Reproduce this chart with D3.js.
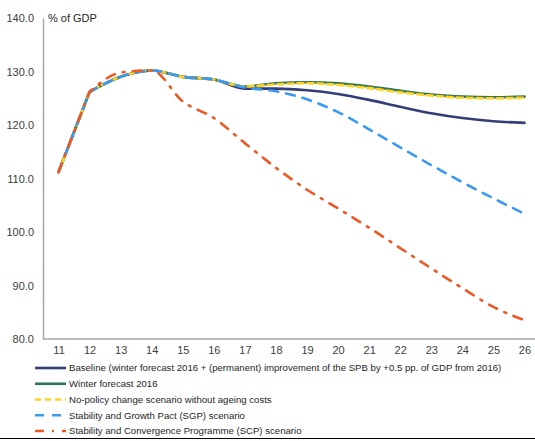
<!DOCTYPE html>
<html>
<head>
<meta charset="utf-8">
<script src="https://cdn.jsdelivr.net/npm/d3@7"></script>
<style>
  body { margin: 0; background: #fff; }
  svg { display: block; font-family: "Liberation Sans", Arial, sans-serif; }
  .axis text { fill: #404040; font-size: 11px; }
  .legend text { fill: #262626; font-size: 9.6px; }
</style>
</head>
<body>
<div id="line-chart"></div>
<script>
// Years (20xx)
var years = ["11", "12", "13", "14", "15", "16", "17", "18", "19", "20", "21", "22", "23", "24", "25", "26"];
var yTicks = [80, 90, 100, 110, 120, 130, 140];

var baseline = [111.2, 126.2, 129.0, 130.2, 129.0, 128.5, 126.8, 126.8, 126.5, 125.8, 124.7, 123.4, 122.2, 121.3, 120.7, 120.4];
var winter2016 = [111.2, 126.2, 129.0, 130.2, 129.0, 128.5, 127.2, 127.8, 128.0, 127.8, 127.2, 126.4, 125.7, 125.3, 125.2, 125.3];
var noPolicy = [111.2, 126.2, 129.0, 130.2, 129.0, 128.5, 127.2, 127.6, 127.8, 127.5, 126.9, 126.1, 125.5, 125.1, 125.0, 125.1];
var sgp = [111.2, 126.2, 129.0, 130.2, 129.0, 128.5, 127.0, 126.3, 124.8, 122.4, 119.2, 115.8, 112.5, 109.3, 106.3, 103.4];
var scp = [111.2, 126.2, 129.8, 130.2, 124.4, 121.3, 116.6, 112.0, 107.9, 104.4, 100.8, 97.0, 93.2, 89.5, 86.0, 83.5];

var seriesNames = [
  "Baseline (winter forecast 2016 + (permanent) improvement of the SPB by +0.5 pp. of GDP from 2016)",
  "Winter forecast 2016",
  "No-policy change scenario without ageing costs",
  "Stability and Growth Pact (SGP) scenario",
  "Stability and Convergence Programme (SCP) scenario"
];

var series = [
  { name: seriesNames[0], values: baseline, color: "#333d7a", dash: null },
  { name: seriesNames[1], values: winter2016, color: "#2f7656", dash: null },
  { name: seriesNames[2], values: noPolicy, color: "#ffd21f", dash: "6,4" },
  { name: seriesNames[3], values: sgp, color: "#3a9af2", dash: "9,8" },
  { name: seriesNames[4], values: scp, color: "#ee5824", dash: "9,8,2,8" }
];

var render = function() {
  var width = 535;
  var height = 441;

  var svg = d3.select("#line-chart")
    .append("svg")
    .attr("width", width)
    .attr("height", height);

  var xScale = d3.scalePoint()
    .domain(years)
    .range([43, 540])
    .padding(0.5);

  var yScale = d3.scaleLinear()
    .domain([80, 140])
    .range([339, 18]);

  // y axis
  var yAxis = d3.axisLeft(yScale)
    .tickValues(yTicks)
    .tickSize(0)
    .tickPadding(9)
    .tickFormat(d3.format(".1f"));

  var yG = svg.append("g")
    .attr("class", "y axis")
    .attr("transform", "translate(43,0)")
    .call(yAxis);
  yG.select(".domain").attr("stroke", "#a6a6a6").attr("stroke-width", 1.5);

  // x axis
  var xAxis = d3.axisBottom(xScale)
    .tickSize(0)
    .tickPadding(7);

  var xG = svg.append("g")
    .attr("class", "x axis")
    .attr("transform", "translate(0,339)")
    .call(xAxis);
  xG.select(".domain").remove();
  xG.append("line")
    .attr("x1", 43).attr("x2", width)
    .attr("y1", 0).attr("y2", 0)
    .attr("stroke", "#a6a6a6")
    .attr("stroke-width", 1.5);

  svg.append("text")
    .attr("x", 48)
    .attr("y", 22)
    .attr("fill", "#262626")
    .style("font-size", "11px")
    .text("% of GDP");

  // smooth from 2012 on, straight segment 2011 -> 2012 (sharp corner at 12)
  var smooth = d3.line()
    .x((d, i) => xScale(years[i + 1]))
    .y(d => yScale(d))
    .curve(d3.curveMonotoneX);

  var makePath = function(values) {
    var rest = smooth(values.slice(1));
    return "M" + xScale(years[0]) + "," + yScale(values[0]) + "L" + rest.slice(1);
  };

  svg.append("g")
    .attr("class", "lines")
    .selectAll("path")
    .data(series)
    .enter()
    .append("path")
    .attr("d", d => makePath(d.values))
    .attr("fill", "none")
    .attr("stroke", d => d.color)
    .attr("stroke-width", 2.6)
    .attr("stroke-dasharray", d => d.dash)
    .attr("stroke-linecap", "round")
    .attr("stroke-linejoin", "round");

  // legend
  var legend = svg.append("g").attr("class", "legend");
  var rowY = d3.scaleLinear().domain([0, 4]).range([368, 431]);

  var rows = legend.selectAll("g")
    .data(series)
    .enter()
    .append("g")
    .attr("transform", (d, i) => `translate(0,${rowY(i)})`);

  rows.append("line")
    .attr("x1", 35).attr("x2", 66)
    .attr("y1", 0).attr("y2", 0)
    .attr("stroke", d => d.color)
    .attr("stroke-width", 2.6)
    .attr("stroke-dasharray", d => d.dash);

  rows.append("text")
    .attr("x", 69)
    .attr("y", 0)
    .attr("dy", "0.35em")
    .text(d => d.name);

  svg.append("line")
    .attr("x1", 0).attr("x2", width)
    .attr("y1", 438.5).attr("y2", 438.5)
    .attr("stroke", "#000")
    .attr("stroke-width", 1);
};

window.onload = render;
</script>
</body>
</html>
